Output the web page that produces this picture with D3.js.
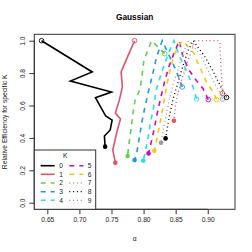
<!DOCTYPE html>
<html>
<head>
<meta charset="utf-8">
<script src="https://cdn.jsdelivr.net/npm/d3@7"></script>
<style>
  body { margin: 0; background: #fff; }
  text { font-family: "Liberation Sans", Arial, sans-serif; }
</style>
</head>
<body>
<div id="chart"></div>
<script>
// each series runs from its start point (open circle) to its end point (filled circle)
const kNames = ["0","1","2","3","4","5","6","7","8","9"];
const kColors = ["#000000","#DF536B","#61D04F","#2297E6","#28E2E5","#CD0BBC","#F5C710","#9E9E9E","#000000","#DF536B"];
const kDash = ["none","none","5,5","5,5","5,5","5,5","5,5","1,2.8","1,2.8","1,2.8"];

const k0 = [[0.641,1.0],[0.720,0.807],[0.686,0.751],[0.750,0.683],[0.725,0.648],[0.741,0.535],[0.751,0.510],[0.748,0.449],[0.739,0.412],[0.740,0.346]];
const k1 = [[0.786,1.0],[0.775,0.90],[0.765,0.807],[0.767,0.714],[0.762,0.63],[0.756,0.554],[0.764,0.517],[0.758,0.43],[0.752,0.325],[0.756,0.247]];
const k2 = [[0.833,0.92],[0.8125,1.0],[0.8006,0.88],[0.7975,0.78],[0.7943,0.70],[0.7866,0.63],[0.7834,0.55],[0.7803,0.45],[0.7767,0.35],[0.7751,0.288]];
const k3 = [[0.8603,0.714],[0.8515,0.809],[0.8359,0.942],[0.8291,1.0],[0.8203,0.9],[0.8146,0.8],[0.8084,0.7],[0.8026,0.6],[0.7975,0.5],[0.7933,0.4],[0.7891,0.3],[0.786,0.263]];
const k4 = [[0.8826,0.64],[0.8774,0.712],[0.8722,0.763],[0.8644,0.835],[0.8566,0.897],[0.8473,1.0],[0.8385,0.918],[0.8307,0.835],[0.8245,0.757],[0.8193,0.691],[0.8162,0.599],[0.811,0.5],[0.8068,0.4],[0.8032,0.325],[0.7995,0.259]];
const k5 = [[0.9008,0.636],[0.893,0.702],[0.8826,0.753],[0.8696,0.825],[0.8608,0.912],[0.8556,1.0],[0.8463,0.911],[0.8385,0.829],[0.8322,0.737],[0.8265,0.644],[0.8213,0.551],[0.8162,0.449],[0.8115,0.366],[0.8078,0.3045]];
const k6 = [[0.9138,0.636],[0.9086,0.681],[0.8982,0.743],[0.8878,0.835],[0.8774,0.928],[0.8608,1.0],[0.854,0.969],[0.8463,0.897],[0.8411,0.815],[0.8359,0.722],[0.8333,0.66],[0.8307,0.599],[0.8265,0.51],[0.8224,0.428],[0.8193,0.366],[0.8167,0.321]];
const k7 = [[0.9231,0.64],[0.919,0.681],[0.9086,0.753],[0.8982,0.835],[0.8878,0.918],[0.8696,1.0],[0.8618,0.922],[0.854,0.829],[0.8463,0.737],[0.84,0.634],[0.8348,0.531],[0.8307,0.449],[0.8271,0.370]];
const k8 = [[0.9293,0.65],[0.919,0.726],[0.9086,0.809],[0.8956,0.901],[0.8774,1.0],[0.8696,0.942],[0.8618,0.85],[0.854,0.747],[0.8463,0.644],[0.8411,0.551],[0.8374,0.469],[0.8343,0.397]];
const k9 = [[0.9231,0.675],[0.9205,0.84],[0.919,0.984],[0.9164,1.0],[0.8982,1.0],[0.88,1.0],[0.8733,0.922],[0.866,0.84],[0.8593,0.757],[0.853,0.665],[0.8494,0.593],[0.8473,0.506]];
const series = [k0,k1,k2,k3,k4,k5,k6,k7,k8,k9];

const xTicks = [0.65,0.70,0.75,0.80,0.85,0.90];
const yTicks = [0.0,0.2,0.4,0.6,0.8,1.0];

const W = 252, H = 252;
const L = 34.3, R = 235, T = 34.3, B = 209.3;

const svg = d3.select("#chart").append("svg").attr("width", W).attr("height", H);

var x = d3.scaleLinear().domain([0.6297,0.9425]).range([L,R]);
var y = d3.scaleLinear().domain([-0.0407,1.0395]).range([B,T]);

// title
svg.append("text").attr("x",(L+R)/2).attr("y",19.5).attr("text-anchor","middle")
  .attr("font-size","8.3px").attr("font-weight","bold").text("Gaussian");

// axes
const xAxis = d3.axisBottom(x).tickValues(xTicks).tickFormat(d3.format(".2f")).tickSize(5).tickPadding(3);
const gx = svg.append("g").attr("transform","translate(0,"+B+")").call(xAxis);
gx.select(".domain").attr("d","M"+x(0.65)+",0H"+x(0.90)).attr("stroke","#333");
gx.selectAll("line").attr("stroke","#333");
gx.selectAll("text").attr("font-size","6.7px").attr("fill","#222");

const yAxis = d3.axisLeft(y).tickValues(yTicks).tickFormat(d3.format(".1f")).tickSize(5);
const gy = svg.append("g").attr("transform","translate("+L+",0)").call(yAxis);
gy.select(".domain").attr("d","M0,"+y(0)+"V"+y(1)).attr("stroke","#333");
gy.selectAll("line").attr("stroke","#333");
gy.selectAll(".tick text").each(function(d){
  d3.select(this).attr("x",0).attr("y",0).attr("dy",0)
    .attr("font-size","6.7px").attr("fill","#222").attr("text-anchor","middle")
    .attr("transform","translate(-9.5,0) rotate(-90)");
});

// axis labels
svg.append("text").attr("x",(L+R)/2).attr("y",241).attr("text-anchor","middle")
  .attr("font-size","6.7px").attr("fill","#222").text("α");
svg.append("text").attr("transform","translate(7,"+((T+B)/2)+") rotate(-90)")
  .attr("text-anchor","middle").attr("font-size","6.7px").attr("fill","#222")
  .text("Relative Efficiency for specific K");

// box
svg.append("rect").attr("x",L).attr("y",T).attr("width",R-L).attr("height",B-T)
  .attr("fill","none").attr("stroke","#333").attr("stroke-width",1);

var line = d3.line().x(d => x(d[0])).y(d => y(d[1]));

const plot = svg.append("g");
series.forEach((s,i) => {
  plot.append("path").datum(s).attr("fill","none")
    .attr("stroke",kColors[i]).attr("stroke-width", i<2 ? 1.6 : (i<7 ? 1.6 : 1.3))
    .attr("stroke-dasharray",kDash[i]).attr("d",line);
});
series.forEach((s,i) => {
  const a = s[0], b = s[s.length-1];
  plot.append("circle").attr("cx",x(a[0])).attr("cy",y(a[1])).attr("r",2.3)
    .attr("fill","none").attr("stroke",kColors[i]).attr("stroke-width",0.9);
  plot.append("circle").attr("cx",x(b[0])).attr("cy",y(b[1])).attr("r",2.3)
    .attr("fill",kColors[i]);
});

// legend
const lg = svg.append("g");
lg.append("rect").attr("x",L).attr("y",150).attr("width",95.7-L).attr("height",B-150)
  .attr("fill","#fff").attr("stroke","#333").attr("stroke-width",1);
lg.append("text").attr("x",65.3).attr("y",158).attr("text-anchor","middle")
  .attr("font-size","6.7px").attr("fill","#222").text("K");
const rowY = [165.7,174.3,183,191.7,200.3];
kNames.forEach((k,i) => {
  const col = Math.floor(i/5), row = i%5;
  const x0 = col===0 ? 40.7 : 69.3;
  lg.append("line").attr("x1",x0).attr("x2",x0+14).attr("y1",rowY[row]).attr("y2",rowY[row])
    .attr("stroke",kColors[i]).attr("stroke-width", i<7 ? 1.6 : 1.3).attr("stroke-dasharray",kDash[i]);
  lg.append("text").attr("x",x0+18.5).attr("y",rowY[row]+2.3)
    .attr("font-size","6.7px").attr("fill","#222").text(k);
});
</script>
</body>
</html>
